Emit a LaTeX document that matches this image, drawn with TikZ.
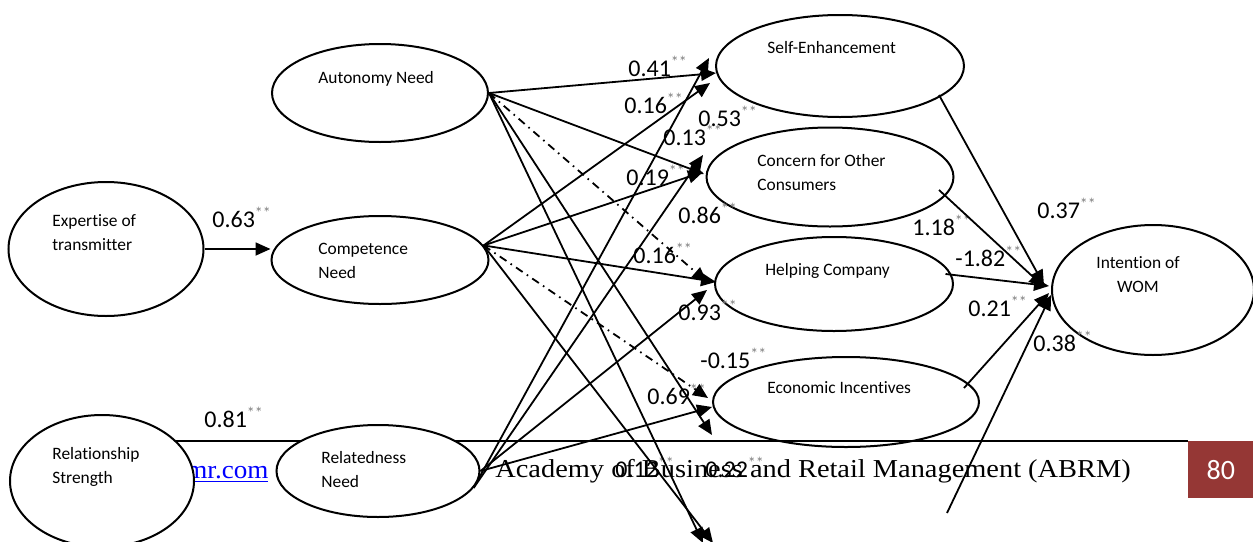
\documentclass[tikz,border=0pt]{standalone}
\usepackage{fontspec}
\setmainfont{Carlito}[Ligatures=NoCommon]
\newfontfamily\pagefont{Liberation Serif}
\usetikzlibrary{arrows.meta,calc,shapes.geometric}
\definecolor{pagered}{RGB}{149,55,53}
\definecolor{stargray}{RGB}{128,128,128}
\tikzset{
  var/.style  ={draw,ellipse,line width=1pt,inner sep=0pt},
  vtxt/.style ={font=\fontsize{8.7}{12}\selectfont,align=left,
                anchor=base west,inner sep=0pt},
  coef/.style ={font=\fontsize{12}{14}\selectfont,anchor=base west,
                inner sep=0pt},
  foot/.style ={font=\pagefont\fontsize{12.9}{15}\selectfont,
                anchor=base west,inner sep=0pt},
  pth/.style  ={line width=0.9pt,-{Triangle[length=7.5pt,width=6.5pt]}},
  dd/.style   ={pth,dash pattern=on 4pt off 2.5pt on 0.8pt off 2.5pt},
}
\newcommand{\sig}{\textsuperscript{\textcolor{stargray}{**}}}

\begin{document}
\begin{tikzpicture}[x=0.5pt,y=-0.5pt]
\useasboundingbox (0,0) rectangle (1253,541);
% page footer
\node[foot] (ft) at (495,477) {\scalebox{1.1}[1]{Academy of Business and Retail Management (ABRM)}};
\node[foot,text=blue] (url) at (186,478) {\scalebox{1.05}[1]{\underline{mr.com}}};
\draw[line width=1pt] (175,441) -- (1188,441);
\node[fill=pagered,text=white,font=\fontsize{14}{16}\selectfont,
      minimum width=32.5pt,minimum height=28.5pt,anchor=north west] (pg) at (1188,441) {80};

% constructs
\node[var,minimum width=97.5pt,minimum height=67pt] (ET) at (106,249) {};
\node[var,fill=white,minimum width=92pt,minimum height=66pt] (RS) at (102,481) {};
\node[var,minimum width=108pt,minimum height=49pt] (AN) at (380,93) {};
\node[var,minimum width=108.5pt,minimum height=44pt] (CN) at (380,260) {};
\node[var,fill=white,minimum width=101.5pt,minimum height=46pt] (RN) at (378,471) {};
\node[var,minimum width=124pt,minimum height=51pt] (SE) at (840,66) {};
\node[var,minimum width=123.5pt,minimum height=49.5pt] (CO) at (830,177) {};
\node[var,minimum width=119pt,minimum height=47pt] (HC) at (834,284) {};
\node[var,minimum width=133pt,minimum height=45pt] (EI) at (846,402) {};
\node[var,minimum width=101pt,minimum height=65pt] (WOM) at (1153,290) {};
\coordinate (SBu) at (712,435);
\coordinate (SB) at (708,543);
\coordinate (SBr) at (947,513);

% labels (multi-line ones sit on their last line)
\node[vtxt] (ETt) at (52,250) {Expertise of\\transmitter};
\node[vtxt] (RSt) at (52,483) {Relationship\\Strength};
\node[vtxt] (ANt) at (318,83) {Autonomy Need};
\node[vtxt] (CNt) at (318,278) {Competence\\Need};
\node[vtxt] (RNt) at (321,487) {Relatedness\\Need};
\node[vtxt] (SEt) at (767,53) {Self-Enhancement};
\node[vtxt] (COt) at (757,190) {Concern for Other\\Consumers};
\node[vtxt] (HCt) at (765,275) {Helping Company};
\node[vtxt] (EIt) at (767,393) {Economic Incentives};
\node[vtxt,align=center,anchor=base] (WOMt) at (1138,292) {Intention of\\WOM};

% path coefficients
\node[coef] (c1) at (212,227) {0.63\sig};
\node[coef] (c2) at (204,427) {0.81\sig};
\node[coef] (c3) at (628,76) {0.41\sig};
\node[coef] (c4) at (624,113) {0.16\sig};
\node[coef] (c5) at (698,126) {0.53\sig};
\node[coef] (c6) at (663,145) {0.13\sig};
\node[coef] (c7) at (626,185) {0.19\sig};
\node[coef] (c8) at (678,223) {0.86\sig};
\node[coef] (c9) at (633,263) {0.16\sig};
\node[coef] (c10) at (678,320) {0.93\sig};
\node[coef] (c11) at (700,368) {-0.15\sig};
\node[coef] (c12) at (647,404) {0.69\sig};
\node[coef] (c13) at (615,477) {0.12\sig};
\node[coef] (c14) at (705,477) {0.22\sig};
\node[coef] (c15) at (912,235) {1.18\sig};
\node[coef] (c16) at (955,266) {-1.82\sig};
\node[coef] (c17) at (1037,218) {0.37\sig};
\node[coef] (c18) at (968,316) {0.21\sig};
\node[coef] (c19) at (1033,351) {0.38\sig};

\draw[pth] (ET.east) -- (ET.east -| CN.west);
% autonomy
\draw[pth] (AN.east) -- ($(SE.west)+(1,7)$);
\draw[pth] (AN.east) -- ($(CO.west)+(-1.5,-3)$);
\draw[dd] (AN.east) -- ($(HC.west)+(-7,-2)$);
\draw[pth] (AN.east) -- (SBu);
\draw[pth] (AN.east) -- ($(SB)+(-5,0)$);
% competence
\draw[pth] (CN.8) -- ($(SE.west)+(-5,17)$);
\draw[pth] (CN.8) -- ($(CO.west)+(-2.5,-5)$);
\draw[pth] (CN.8) -- ($(HC.west)+(2,-2)$);
\draw[dd] (CN.8) -- ($(EI.west)+(-4,-4)$);
\draw[pth] (CN.8) -- ($(SB)+(5,0)$);
% relatedness
\draw[pth] (RN.-10) -- ($(SE.west)+(-6,-8)$);
\draw[pth] (RN.-10) -- ($(CO.west)+(-2.5,-22)$);
\draw[pth] (RN.east) -- ($(HC.west)+(-7,6)$);
\draw[pth] (RN.east) -- ($(EI.west)+(0,5)$);
% motives -> intention
\draw[pth] ($(SE.east)+(-26,29)$) -- ($(WOM.west)+(-7,-5)$);
\draw[pth] ($(CO.east)+(-15.5,13)$) -- ($(WOM.west)+(-7,-3)$);
\draw[pth] ($(HC.east)+(-8.5,-10)$) -- ($(WOM.west)+(-2,-4)$);
\draw[pth] ($(EI.east)+(-16,-14)$) -- ($(WOM.west)+(-2,3)$);
\draw[pth] (SBr) -- ($(WOM.west)+(0,5)$);
\end{tikzpicture}
\end{document}
